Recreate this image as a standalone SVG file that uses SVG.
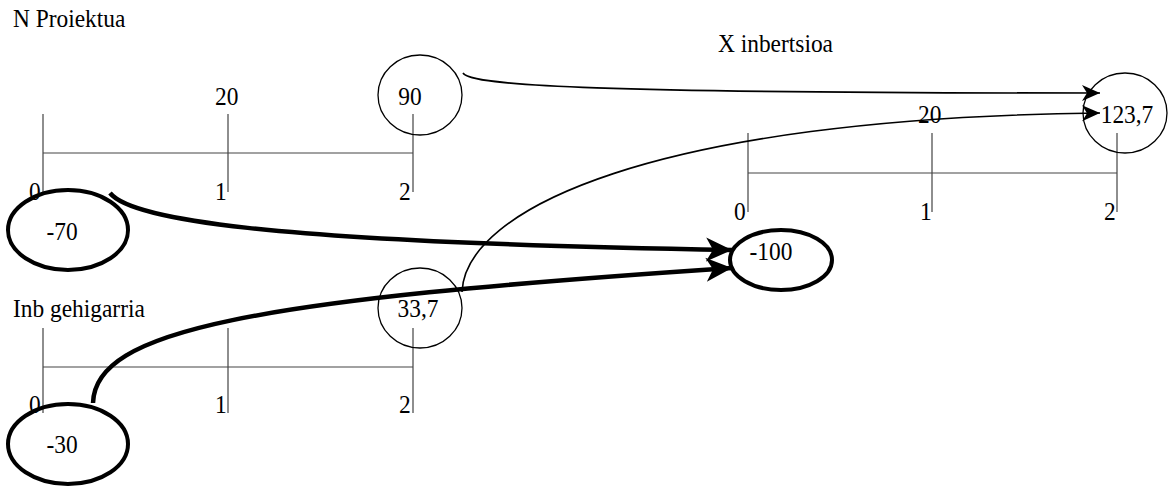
<svg xmlns="http://www.w3.org/2000/svg" width="1174" height="486" viewBox="0 0 1174 486">
<style>
text{font-family:"Liberation Serif","Times New Roman",serif;font-size:26px;fill:#000}
.c{text-anchor:middle}
.axis{stroke:#444;stroke-width:1.2;fill:none}
.thin{fill:none;stroke:#000;stroke-width:1.3}
.thick{fill:none;stroke:#000;stroke-width:4}
.conn-thin{fill:none;stroke:#000;stroke-width:1.6}
.conn-thick{fill:none;stroke:#000;stroke-width:4.5}
</style>
<defs>
<marker id="ah" markerUnits="userSpaceOnUse" markerWidth="20" markerHeight="18" viewBox="0 0 20 18" refX="18" refY="9" orient="auto">
<path d="M0,1 L18,9 L0,17 L5,9 Z" fill="#000"/>
</marker>
<marker id="ahb" markerUnits="userSpaceOnUse" markerWidth="28" markerHeight="28" viewBox="0 0 28 28" refX="26" refY="14" orient="auto">
<path d="M0,2 L26,14 L0,26 L7,14 Z" fill="#000"/>
</marker>
</defs>

<g id="titles">
<text transform="matrix(0.9 0 0 1 13 27)">N Proiektua</text>
<text transform="matrix(0.9 0 0 1 718 52)">X inbertsioa</text>
<text transform="matrix(0.9 0 0 1 13 317)">Inb gehigarria</text>
</g>

<g id="timeline-project">
<path class="axis" d="M43,114 V195 M228,114 V192 M413,114 V192 M43,153 H413"/>
<text transform="matrix(0.9 0 0 1 29 200)">0</text>
<text transform="matrix(0.9 0 0 1 215 200)">1</text>
<text transform="matrix(0.9 0 0 1 399 200)">2</text>
<text transform="matrix(0.9 0 0 1 215 105)">20</text>
</g>

<g id="timeline-extra">
<path class="axis" d="M43,328 V413 M228,328 V413 M413,328 V413 M43,367 H413"/>
<text transform="matrix(0.9 0 0 1 29 413)">0</text>
<text transform="matrix(0.9 0 0 1 215 413)">1</text>
<text transform="matrix(0.9 0 0 1 399 413)">2</text>
</g>

<g id="timeline-investment">
<path class="axis" d="M748,133 V212 M932,133 V212 M1117,133 V212 M748,173 H1117"/>
<text transform="matrix(0.9 0 0 1 734 220)">0</text>
<text transform="matrix(0.9 0 0 1 920 220)">1</text>
<text transform="matrix(0.9 0 0 1 1104 220)">2</text>
<text transform="matrix(0.9 0 0 1 918 123)">20</text>
</g>

<g id="node-90">
<ellipse class="thin" cx="420" cy="95" rx="42" ry="40"/>
<text class="c" transform="matrix(0.9 0 0 1 410 105)">90</text>
</g>
<g id="node-33-7">
<ellipse class="thin" cx="420" cy="308" rx="42" ry="40"/>
<text class="c" transform="matrix(0.9 0 0 1 418 317)">33,7</text>
</g>
<g id="node-123-7">
<ellipse class="thin" cx="1125" cy="113" rx="42" ry="40"/>
<text class="c" transform="matrix(0.9 0 0 1 1127 123)">123,7</text>
</g>
<g id="node-m70">
<ellipse class="thick" cx="68" cy="230" rx="60" ry="40"/>
<text class="c" transform="matrix(0.9 0 0 1 62 240)">-70</text>
</g>
<g id="node-m30">
<ellipse class="thick" cx="68" cy="444" rx="60" ry="40"/>
<text class="c" transform="matrix(0.9 0 0 1 62 453)">-30</text>
</g>
<g id="node-m100">
<ellipse class="thick" cx="781" cy="260" rx="51" ry="30"/>
<text class="c" transform="matrix(0.9 0 0 1 771 260)">-100</text>
</g>

<g id="connectors">
<path class="conn-thin" d="M463,73 C470,86 600,93 1100,93" marker-end="url(#ah)"/>
<path class="conn-thin" d="M462,292 C465,210 650,118 1100,113" marker-end="url(#ah)"/>
<path class="conn-thick" d="M110,193 C130,218 250,242 732,250" marker-end="url(#ahb)"/>
<path class="conn-thick" d="M93,403 C95,330 250,300 732,268" marker-end="url(#ahb)"/>
</g>
</svg>
